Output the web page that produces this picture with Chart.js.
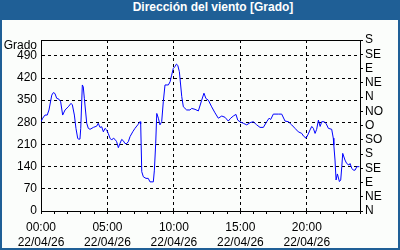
<!DOCTYPE html>
<html>
<head>
<meta charset="utf-8">
<script src="https://cdn.jsdelivr.net/npm/chart.js@4"></script>
<style>
    html, body { margin: 0; padding: 0; }
    body { width: 400px; height: 250px; background: #1f5f96; position: relative; overflow: hidden; }
    #title { position: absolute; top: 0; left: 213px; transform: translateX(-50%); height: 20px; line-height: 21px;
             color: #fff; font: bold 12px 'Liberation Sans', Arial, sans-serif; white-space: nowrap; }
    #box { position: absolute; left: 2px; top: 20px; width: 396px; height: 228px; background: #fbfdfb; }
</style>
</head>
<body>
<div id="title">Dirección del viento [Grado]</div>
<div id="box"><canvas id="myChart" width="396" height="228"></canvas></div>
<script>
// hours since 00:00 of 22/04/26
const hours = [0.00, 0.13, 0.30, 0.47, 0.60, 0.81, 0.93, 1.05, 1.18, 1.35, 1.48, 1.63, 1.81, 2.05, 2.26, 2.36,
    2.51, 2.63, 2.76, 2.81, 2.93, 2.99, 3.11, 3.18, 3.26, 3.44, 3.56, 3.69, 3.94, 4.19, 4.31, 4.44, 4.57, 4.69,
    4.82, 4.94, 5.06, 5.19, 5.32, 5.44, 5.57, 5.69, 5.82, 5.94, 6.07, 6.19, 6.32, 6.45, 6.57, 6.70, 6.90, 7.07,
    7.28, 7.45, 7.50, 7.58, 7.70, 7.90, 8.07, 8.20, 8.45, 8.53, 8.63, 8.71, 8.83, 8.95, 9.08, 9.20, 9.33, 9.58,
    9.71, 9.83, 9.95, 10.08, 10.19, 10.29, 10.41, 10.59, 10.71, 10.96, 11.21, 11.34, 11.59, 11.84, 12.09, 12.26,
    12.41, 12.59, 12.84, 13.09, 13.34, 13.60, 13.84, 14.09, 14.27, 14.47, 14.67, 14.80, 14.97, 15.22, 15.48,
    15.73, 15.97, 16.23, 16.48, 16.73, 16.98, 17.16, 17.28, 17.48, 17.86, 18.11, 18.36, 18.61, 18.86, 19.11,
    19.36, 19.62, 19.74, 19.94, 20.07, 20.24, 20.37, 20.49, 20.62, 20.74, 20.87, 21.00, 21.12, 21.29, 21.44,
    21.62, 21.87, 21.99, 22.03, 22.12, 22.20, 22.30, 22.45, 22.55, 22.63, 22.70, 22.87, 23.00, 23.17, 23.25,
    23.38, 23.50, 23.63, 23.76, 23.95];
const direction = [282, 293, 303, 303, 319, 366, 374, 371, 356, 353, 345, 303, 319, 329, 340, 335,
    303, 261, 230, 227, 227, 261, 398, 392, 356, 277, 261, 258, 264, 268, 277, 264, 266, 250,
    261, 256, 245, 230, 224, 230, 226, 219, 200, 213, 226, 222, 213, 213, 219, 235, 250, 261,
    272, 282, 275, 124, 108, 103, 103, 92, 92, 129, 214, 308, 293, 272, 282, 345, 398, 398,
    408, 429, 450, 456, 464, 460, 440, 361, 329, 319, 319, 324, 321, 316, 350, 372,
    355, 350, 329, 310, 293, 300, 296, 284, 293, 300, 305, 287, 282, 277, 272,
    279, 282, 272, 264, 264, 282, 293, 289, 306, 306, 306, 284, 282, 272, 261,
    250, 245, 237, 230, 240, 256, 267, 261, 245, 258, 287, 267, 282, 282, 277,
    261, 258, 230, 208, 161, 98, 117, 93, 98, 140, 182, 161, 150, 145, 150,
    135, 129, 129, 140, 140];

const dateLabel = '22/04/26';
const degreeTicks = [0, 70, 140, 210, 280, 350, 420, 490];
const compassTicks = [0, 45, 90, 135, 180, 225, 270, 315, 360, 405, 450, 495, 540];
const compassLabels = ['N', 'NE', 'E', 'SE', 'S', 'SO', 'O', 'NO', 'N', 'NE', 'E', 'SE', 'S'];
const yMax = 540;

Chart.defaults.font.family = "'Liberation Sans', Arial, sans-serif";
Chart.defaults.font.size = 12;
Chart.defaults.color = '#000';

document.addEventListener('DOMContentLoaded', function () {
    const ctx = document.getElementById('myChart').getContext('2d');

    new Chart(ctx, {
        type: 'line',
        data: {
            datasets: [{
                data: hours.map((h, i) => ({ x: h, y: direction[i] })),
                borderColor: '#0000ff',
                borderWidth: 1,
                pointRadius: 0,
                tension: 0,
                fill: false
            }]
        },
        options: {
            responsive: false,
            animation: false,
            layout: { padding: { top: 20 } },
            scales: {
                x: {
                    type: 'linear',
                    min: 0,
                    max: 24,
                    afterFit: function (scale) { scale.height = 37; },
                    ticks: {
                        stepSize: 1,
                        autoSkip: false,
                        maxRotation: 0,
                        padding: 6,
                        font: { lineHeight: 1.25 },
                        callback: function (v) {
                            if (v % 5 !== 0 || v > 20) return '';
                            return [String(v).padStart(2, '0') + ':00', dateLabel];
                        }
                    },
                    grid: {
                        color: function (c) { return c.tick && c.tick.value % 5 === 0 ? '#000' : 'rgba(0,0,0,0)'; },
                        tickColor: '#000',
                        tickLength: 3,
                        lineWidth: 1
                    },
                    border: { color: '#000', dash: [3, 3] }
                },
                y: {
                    min: 0,
                    max: yMax,
                    afterBuildTicks: function (scale) { scale.ticks = degreeTicks.map(v => ({ value: v })); },
                    afterFit: function (scale) { scale.width = 39; },
                    ticks: { padding: 4, autoSkip: false },
                    grid: { color: '#000', drawTicks: false, lineWidth: 1 },
                    border: { color: '#000', dash: [3, 3] }
                },
                y2: {
                    position: 'right',
                    min: 0,
                    max: yMax,
                    afterBuildTicks: function (scale) { scale.ticks = compassTicks.map(v => ({ value: v })); },
                    afterFit: function (scale) { scale.width = 38; },
                    ticks: {
                        padding: 2,
                        autoSkip: false,
                        callback: function (v, i) { return compassLabels[i]; }
                    },
                    grid: { drawOnChartArea: false, tickColor: '#000', tickLength: 3 },
                    border: { color: '#000' }
                }
            },
            plugins: {
                legend: { display: false },
                tooltip: { enabled: false }
            }
        },
        plugins: [{
            afterDraw: function (chart) {
                const c = chart.ctx;
                const a = chart.chartArea;
                c.save();
                c.strokeStyle = '#000';
                c.lineWidth = 1;
                c.beginPath();
                c.moveTo(a.left, Math.round(a.top) + 0.5);
                c.lineTo(a.right, Math.round(a.top) + 0.5);
                c.stroke();
                c.fillStyle = '#000';
                c.font = "12px 'Liberation Sans', Arial, sans-serif";
                c.textAlign = 'right';
                c.textBaseline = 'middle';
                c.fillText('Grado', a.left - 4, a.top + 6);
                c.restore();
            }
        }]
    });
});
</script>
</body>
</html>
